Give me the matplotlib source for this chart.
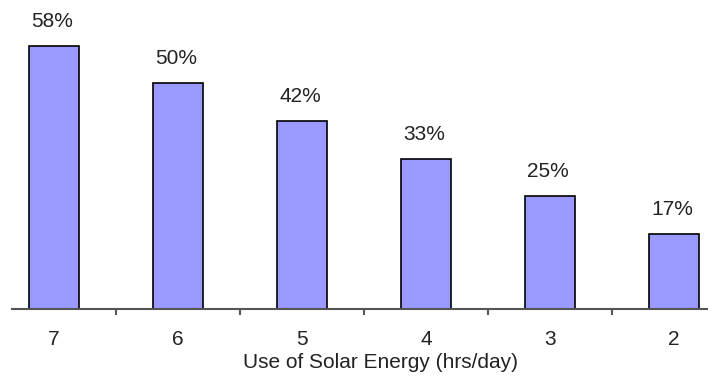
import matplotlib
matplotlib.use("Agg")
import matplotlib.pyplot as plt
import numpy as np

categories = ["7", "6", "5", "4", "3", "2"]
values = [58.3, 50.0, 41.7, 33.3, 25.0, 16.7]
labels = ["58%", "50%", "42%", "33%", "25%", "17%"]
xlabel = "Use of Solar Energy (hrs/day)"

plt.rcParams['font.family'] = ['Liberation Sans', 'DejaVu Sans']
FS = 15

fig = plt.figure(figsize=(7.08, 3.79), dpi=100)
ax = fig.add_axes([12/708, 70/379, 696/708, 309/379])
x = np.arange(len(categories))
ax.bar(x, values, width=0.41, color="#9999FF", edgecolor="black", linewidth=1.2, zorder=2)
for xi, v, lab in zip(x, values, labels):
    ax.annotate(lab, (xi, v), xytext=(-1.5, 13.5), textcoords="offset points",
                ha="center", va="baseline", fontsize=FS, color="#222222")

ax.set_xlim(-0.339, 5.274)
ax.set_ylim(0, 68.4)
ax.set_yticks([])
for s in ["top", "right", "left"]:
    ax.spines[s].set_visible(False)
ax.spines["bottom"].set_color("#555555")
ax.spines["bottom"].set_linewidth(1.5)
ax.set_xticks(x)
ax.set_xticklabels(categories, fontsize=FS, color="#222222")
ax.tick_params(axis="x", which="major", length=0, pad=15)
ax.set_xticks(x[:-1] + 0.5, minor=True)
ax.tick_params(axis="x", which="minor", length=4, width=1.5, color="#555555", direction="out")
ax.set_xlabel(xlabel, fontsize=FS, labelpad=3, color="#222222", x=0.53)

fig.savefig("out.png", dpi=100)
